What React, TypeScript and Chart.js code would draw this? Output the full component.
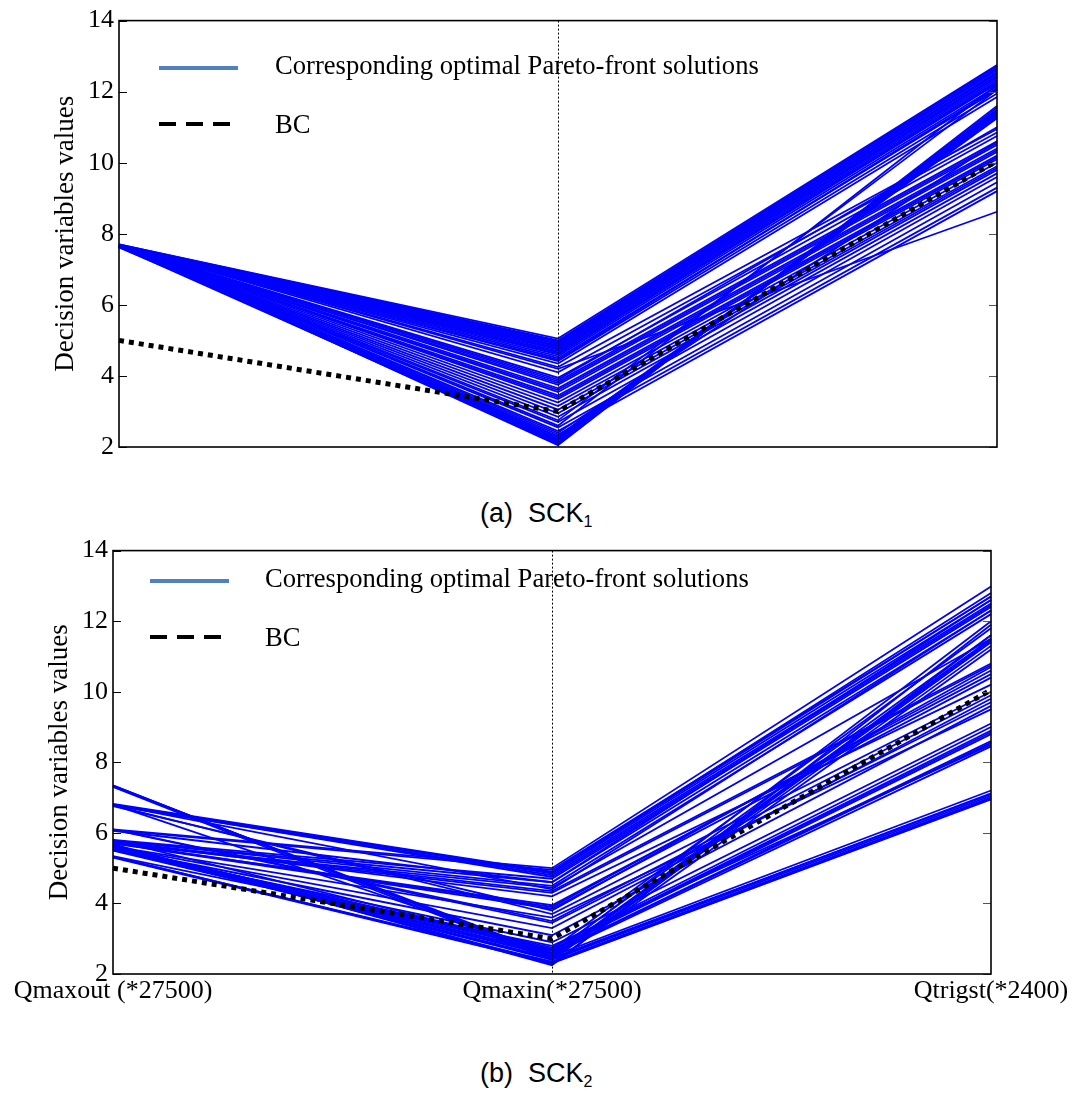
import React, { useEffect, useRef } from "react";
import { Chart, registerables } from "chart.js";

Chart.register(...registerables);

// ---------- data ----------
const axisLabels = ["Qmaxout (*27500)", "Qmaxin(*27500)", "Qtrigst(*2400)"];
const yTitle = "Decision variables values";
const legendLabels = ["Corresponding optimal Pareto-front solutions", "BC"];
const captionA = ["(a)", "SCK", "1"];
const captionB = ["(b)", "SCK", "2"];

// SCK1: optimal Pareto-front solutions (one entry per solution)
const sck1Qmaxout = [
  7.70, 7.70, 7.69, 7.69, 7.68, 7.68, 7.68, 7.67, 7.67, 7.67, 7.66, 7.66,
  7.66, 7.65, 7.65, 7.65, 7.70, 7.69, 7.69, 7.68, 7.68, 7.67, 7.67, 7.66,
  7.66, 7.65, 7.68, 7.68, 7.67, 7.67, 7.66, 7.66, 7.66, 7.65, 7.65, 7.65,
  7.64, 7.64, 7.64, 7.63, 7.63, 7.63, 7.62, 7.68, 7.66, 7.64,
  7.67, 7.66, 7.65, 7.66, 7.67, 7.65, 7.64, 7.64, 7.63, 7.63, 7.62, 7.64,
];
const sck1Qmaxin = [
  5.05, 5.0, 4.97, 4.93, 4.9, 4.86, 4.82, 4.78, 4.74, 4.7, 4.66, 4.6,
  4.55, 4.5, 4.42, 4.35, 2.05, 2.08, 2.1, 2.13, 2.16, 2.2, 2.24, 2.28,
  2.6, 2.75, 4.25, 4.1, 3.95, 3.85, 3.75, 3.65, 3.55, 3.45, 3.35, 3.25,
  3.15, 2.95, 2.85, 2.7, 2.55, 2.45, 2.35, 4.2, 3.9, 2.4,
  2.18, 2.22, 2.3, 4.84, 4.76, 4.62, 3.8, 3.6, 3.05, 2.12, 4.45, 3.4,
];
const sck1Qtrigst = [
  12.75, 12.72, 12.68, 12.64, 12.6, 12.55, 12.5, 12.45, 12.4, 12.35, 12.3, 12.22,
  12.15, 12.05, 11.95, 11.85, 11.6, 11.55, 11.5, 11.45, 11.4, 11.35, 11.3, 11.25,
  12.2, 12.05, 10.95, 10.85, 10.75, 10.6, 10.5, 10.4, 10.3, 10.2, 10.1, 10.0,
  9.9, 9.8, 9.7, 9.6, 9.45, 9.3, 9.2, 8.62, 11.0, 10.6,
  11.42, 11.38, 11.28, 12.52, 12.43, 12.26, 10.55, 10.35, 9.85, 11.48, 12.1, 10.15,
];
const sck1BC = [5.0, 3.0, 10.05];

// SCK2: optimal Pareto-front solutions
const sck2Qmaxout = [
  7.35, 7.33, 7.3, 6.82, 6.8, 6.78, 6.8, 6.76, 6.8, 6.1,
  6.08, 6.1, 5.8, 5.78, 5.75, 5.72, 5.7, 5.8, 5.65, 5.6,
  5.55, 5.58, 5.6, 5.55, 5.52, 5.5, 5.6, 5.58, 5.55, 5.32,
  5.3, 5.7, 5.75, 6.78, 5.62, 5.68, 6.06, 5.52, 5.34, 7.32,
  6.8, 6.79, 5.78, 5.72, 5.6, 5.58, 5.56, 5.33, 7.34, 5.66, 5.7, 6.09,
];
const sck2Qmaxin = [
  2.45, 2.5, 2.4, 4.9, 4.85, 4.8, 4.4, 3.8, 2.6, 5.0,
  4.95, 3.5, 4.7, 4.5, 4.35, 3.9, 3.85, 2.7, 2.3, 3.3,
  3.1, 2.75, 2.7, 2.65, 2.6, 2.55, 2.5, 2.45, 2.4, 2.35,
  2.3, 4.45, 4.2, 3.7, 3.6, 2.25, 4.6, 2.9, 2.8, 2.55,
  4.88, 4.75, 4.6, 4.3, 2.68, 2.58, 2.42, 2.32, 2.48, 2.28, 3.95, 3.45,
];
const sck2Qtrigst = [
  11.4, 11.5, 11.3, 12.8, 12.6, 12.5, 12.3, 10.7, 11.6, 12.98,
  12.7, 9.9, 12.4, 12.2, 10.8, 10.6, 10.4, 11.8, 11.2, 9.8,
  9.6, 9.0, 8.9, 8.8, 8.6, 8.45, 7.2, 7.1, 7.05, 7.0,
  6.95, 11.5, 10.2, 10.0, 9.5, 11.9, 12.6, 9.1, 8.5, 12.0,
  12.7, 12.45, 12.3, 10.75, 8.85, 8.55, 7.12, 6.98, 11.45, 11.6, 10.5, 9.7,
];
const sck2BC = [5.0, 3.0, 10.05];

// ---------- styling ----------
const SERIF = "'Liberation Serif', 'Times New Roman', serif";
const SANS = "'Liberation Sans', Arial, sans-serif";

type Spec = {
  a: number[];
  b: number[];
  c: number[];
  bc: number[];
  showX: boolean;
  yWidth: number;
  titlePad: number;
  xHeight: number;
  padTop: number;
  padRight: number;
  legend: { x0: number; x1: number; x1d: number; y1: number; y2: number; tx: number; tb1: number; tb2: number };
};

function makeChart(canvas: HTMLCanvasElement, s: Spec) {
  const datasets: any[] = [];
  datasets.push({
    label: legendLabels[1],
    data: s.bc,
    borderColor: "#000",
    borderWidth: 5,
    borderDash: [5, 5],
    borderCapStyle: "butt",
    pointRadius: 0,
    fill: false,
    tension: 0,
  });
  for (let i = 0; i < s.a.length; i++) {
    datasets.push({
      label: legendLabels[0],
      data: [s.a[i], s.b[i], s.c[i]],
      borderColor: "#0000FF",
      borderWidth: 1.8,
      pointRadius: 0,
      fill: false,
      tension: 0,
    });
  }

  const framePlugin = {
    id: "frame",
    afterDatasetsDraw(chart: any) {
      const { ctx, chartArea: a, scales } = chart;
      const x = scales.x;
      const y = scales.y;
      ctx.save();
      ctx.strokeStyle = "#000";
      ctx.lineWidth = 1;
      ctx.setLineDash([2, 2]);
      const mx = Math.round(x.getPixelForTick(1)) + 0.5;
      ctx.beginPath();
      ctx.moveTo(mx, a.top);
      ctx.lineTo(mx, a.bottom);
      ctx.stroke();
      ctx.setLineDash([]);
      y.ticks.forEach((t: any) => {
        const py = Math.round(y.getPixelForValue(t.value)) + 0.5;
        ctx.lineWidth = 1;
        ctx.strokeStyle = "#000";
        ctx.beginPath();
        ctx.moveTo(a.left, py);
        ctx.lineTo(a.left + 8, py);
        ctx.stroke();
        ctx.strokeStyle = "#555";
        ctx.beginPath();
        ctx.moveTo(a.right, py);
        ctx.lineTo(a.right - 8, py);
        ctx.stroke();
      });
      ctx.strokeStyle = "#000";
      ctx.lineWidth = 1.6;
      ctx.strokeRect(a.left, a.top, a.right - a.left, a.bottom - a.top);
      ctx.restore();
    },
  };

  const legendPlugin = {
    id: "customLegend",
    afterDraw(chart: any) {
      const { ctx } = chart;
      const L = s.legend;
      ctx.save();
      ctx.lineCap = "butt";
      ctx.strokeStyle = "#4F81BD";
      ctx.lineWidth = 4;
      ctx.beginPath();
      ctx.moveTo(L.x0, L.y1);
      ctx.lineTo(L.x1, L.y1);
      ctx.stroke();
      ctx.strokeStyle = "#000";
      ctx.setLineDash([17, 10]);
      ctx.beginPath();
      ctx.moveTo(L.x0, L.y2);
      ctx.lineTo(L.x1d, L.y2);
      ctx.stroke();
      ctx.setLineDash([]);
      ctx.fillStyle = "#000";
      ctx.font = `26.6px ${SERIF}`;
      ctx.textBaseline = "alphabetic";
      ctx.textAlign = "left";
      ctx.fillText(legendLabels[0], L.tx, L.tb1);
      ctx.fillText(legendLabels[1], L.tx, L.tb2);
      ctx.restore();
    },
  };

  return new Chart(canvas, {
    type: "line",
    data: { labels: axisLabels, datasets },
    options: {
      animation: false,
      responsive: false,
      devicePixelRatio: 1,
      layout: { padding: { top: s.padTop, right: s.padRight, left: 0, bottom: 0 } },
      plugins: { legend: { display: false }, tooltip: { enabled: false } },
      scales: {
        x: {
          type: "category",
          offset: false,
          grid: { display: false, drawTicks: false },
          border: { display: false },
          ticks: {
            display: s.showX,
            color: "#000",
            font: { family: SERIF, size: 26 },
            padding: 2,
            maxRotation: 0,
            autoSkip: false,
          },
          afterFit: (sc: any) => {
            sc.height = s.xHeight;
          },
        },
        y: {
          min: 2,
          max: 14,
          grid: { display: false, drawTicks: false },
          border: { display: false },
          ticks: {
            stepSize: 2,
            color: "#000",
            font: { family: SERIF, size: 26 },
            padding: 5,
          },
          title: {
            display: true,
            text: yTitle,
            color: "#000",
            font: { family: SERIF, size: 27 },
            padding: { top: s.titlePad, bottom: 0 },
          },
          afterFit: (sc: any) => {
            sc.width = s.yWidth;
          },
        },
      },
    },
    plugins: [framePlugin, legendPlugin],
  } as any);
}

function ChartCanvas(props: { spec: Spec; top: number; height: number }) {
  const ref = useRef<HTMLCanvasElement>(null);
  useEffect(() => {
    if (!ref.current) return;
    const ch = makeChart(ref.current, props.spec);
    return () => ch.destroy();
  }, []);
  return (
    <canvas
      ref={ref}
      width={1074}
      height={props.height}
      style={{ position: "absolute", left: 0, top: props.top, width: 1074, height: props.height }}
    />
  );
}

function Caption(props: { parts: string[]; top: number }) {
  return (
    <div
      style={{
        position: "absolute",
        left: 480,
        top: props.top,
        fontFamily: SANS,
        fontSize: 27,
        lineHeight: "27px",
        color: "#000",
        whiteSpace: "pre",
      }}
    >
      {props.parts[0] + "  " + props.parts[1]}
      <sub style={{ fontSize: 16, verticalAlign: "-5px" }}>{props.parts[2]}</sub>
    </div>
  );
}

const specTop: Spec = {
  a: sck1Qmaxout,
  b: sck1Qmaxin,
  c: sck1Qtrigst,
  bc: sck1BC,
  showX: false,
  yWidth: 119,
  titlePad: 50,
  xHeight: 23,
  padTop: 19,
  padRight: 77,
  legend: { x0: 159, x1: 238, x1d: 231, y1: 68, y2: 124, tx: 275, tb1: 74, tb2: 133 },
};

const specBottom: Spec = {
  a: sck2Qmaxout,
  b: sck2Qmaxin,
  c: sck2Qtrigst,
  bc: sck2BC,
  showX: true,
  yWidth: 113,
  titlePad: 44,
  xHeight: 56,
  padTop: 17,
  padRight: 83,
  legend: { x0: 150, x1: 229, x1d: 222, y1: 51, y2: 107, tx: 265, tb1: 57, tb2: 116 },
};

export default function App() {
  return (
    <div style={{ position: "absolute", left: 0, top: 0, width: 1074, height: 1094, background: "#fff" }}>
      <ChartCanvas spec={specTop} top={0} height={470} />
      <Caption parts={captionA} top={500} />
      <ChartCanvas spec={specBottom} top={530} height={500} />
      <Caption parts={captionB} top={1060} />
    </div>
  );
}
